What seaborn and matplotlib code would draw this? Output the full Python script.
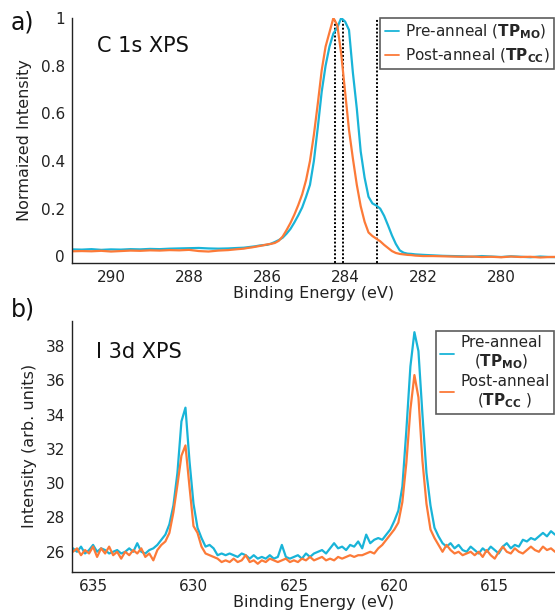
import numpy as np
import pandas as pd
import matplotlib
matplotlib.use("Agg")
import matplotlib.pyplot as plt
import seaborn as sns

# ---------------- C 1s spectra (normalized) ----------------
c1s_energy = np.concatenate([
    np.round(np.arange(291.0, 286.70, -0.25), 2),   # 291.0 ... 286.75
    np.round(np.arange(286.6, 281.95, -0.1), 2),    # 286.6 ... 282.0
    np.round(np.arange(281.75, 278.45, -0.25), 2),  # 281.75 ... 278.5
])

c1s_pre = [
    # 291.0 -> 286.75
    0.029, 0.028, 0.030, 0.027, 0.029, 0.028, 0.030, 0.029, 0.031,
    0.030, 0.032, 0.033, 0.034, 0.035, 0.033, 0.032, 0.033, 0.035,
    # 286.6 -> 282.0
    0.036, 0.038, 0.040, 0.042, 0.045, 0.047, 0.048, 0.053, 0.060, 0.068,
    0.078, 0.095, 0.115, 0.142, 0.172, 0.205, 0.250, 0.300, 0.400, 0.540,
    0.690, 0.800, 0.880, 0.935, 0.960, 1.000, 0.985, 0.950, 0.770, 0.620,
    0.440, 0.330, 0.250, 0.222, 0.213, 0.200, 0.170, 0.130, 0.088, 0.052,
    0.025, 0.015, 0.011, 0.010, 0.008, 0.007, 0.006,
    # 281.75 -> 278.5
    0.004, 0.002, 0.001, 0.000, -0.002, 0.001, -0.001, -0.003, 0.000,
    -0.002, -0.004, -0.001, -0.003, -0.004,
]

c1s_post = [
    # 291.0 -> 286.75
    0.021, 0.022, 0.021, 0.023, 0.020, 0.022, 0.024, 0.023, 0.025,
    0.024, 0.026, 0.025, 0.027, 0.022, 0.020, 0.024, 0.026, 0.030,
    # 286.6 -> 282.0
    0.032, 0.035, 0.037, 0.040, 0.043, 0.046, 0.050, 0.052, 0.056, 0.065,
    0.083, 0.110, 0.140, 0.175, 0.215, 0.260, 0.320, 0.400, 0.510, 0.640,
    0.780, 0.880, 0.940, 1.000, 0.970, 0.850, 0.690, 0.530, 0.410, 0.300,
    0.210, 0.145, 0.100, 0.085, 0.074, 0.063, 0.048, 0.035, 0.022, 0.014,
    0.010, 0.008, 0.006, 0.005, 0.003, 0.002, 0.001,
    # 281.75 -> 278.5
    0.001, 0.000, -0.001, -0.002, -0.001, -0.003, -0.002, -0.004, -0.001,
    -0.003, -0.002, -0.005, -0.003, -0.002,
]

# component positions marked on the C 1s panel (eV)
c1s_markers = [284.27, 284.06, 283.17]

# ---------------- I 3d spectra ----------------
i3d_energy = np.round(np.arange(636.0, 611.95, -0.2), 1)

i3d_pre = [
    26.2, 26.0, 26.3, 25.9, 26.1, 26.4, 26.0, 26.2, 26.1, 25.9,
    26.0, 26.1, 25.9, 26.0, 26.2, 26.0, 26.5, 26.0, 25.9, 26.1,
    26.2, 26.4, 26.7, 27.0, 27.6, 28.7, 30.6, 33.6, 34.4, 31.3,
    28.8, 27.4, 26.8, 26.3, 26.4, 26.2, 25.8, 25.9, 25.8, 25.9,
    25.8, 25.7, 25.9, 25.8, 25.6, 25.8, 25.6, 25.7, 25.6, 25.8,
    25.6, 25.7, 26.4, 25.7, 25.6, 25.7, 25.8, 25.6, 25.9, 25.7,
    25.9, 26.0, 26.1, 25.9, 26.2, 26.5, 26.2, 26.3, 26.1, 26.4,
    26.3, 26.6, 26.2, 27.0, 26.5, 26.7, 26.8, 26.7, 27.0, 27.3,
    27.8, 28.4, 29.8, 33.1, 36.8, 38.8, 37.7, 34.0, 30.6, 28.7,
    27.4, 26.9, 26.5, 26.3, 26.5, 26.2, 26.4, 26.1, 26.0, 26.3,
    26.1, 25.9, 26.2, 26.0, 26.3, 26.1, 25.9, 26.3, 26.5, 26.2,
    26.4, 26.3, 26.7, 26.6, 26.8, 26.7, 26.9, 27.1, 26.9, 27.2,
    27.0,
]

i3d_post = [
    26.0, 26.2, 25.8, 26.1, 25.9, 26.3, 25.7, 26.2, 25.9, 26.3,
    25.8, 26.0, 25.6, 26.0, 25.8, 26.1, 25.9, 26.2, 25.7, 25.9,
    25.5, 26.1, 26.4, 26.6, 27.1, 28.3, 29.9, 31.6, 32.2, 29.8,
    27.5, 27.1, 26.3, 25.9, 25.8, 25.7, 25.6, 25.4, 25.5, 25.4,
    25.6, 25.4, 25.5, 25.8, 25.4, 25.5, 25.3, 25.5, 25.4, 25.6,
    25.5, 25.4, 25.5, 25.6, 25.4, 25.5, 25.4, 25.6, 25.5, 25.7,
    25.5, 25.6, 25.7, 25.5, 25.6, 25.5, 25.7, 25.6, 25.7, 25.8,
    25.7, 25.8, 25.8, 25.9, 26.0, 25.9, 26.2, 26.4, 26.7, 27.0,
    27.3, 27.7, 28.9, 31.2, 34.3, 36.3, 35.0, 31.3, 28.8, 27.3,
    26.8, 26.4, 26.0, 26.4, 26.1, 25.9, 26.0, 25.8, 25.9, 26.0,
    25.8, 26.0, 25.7, 26.1, 25.8, 25.6, 26.0, 26.3, 26.0, 25.9,
    26.2, 26.0, 25.9, 26.1, 26.3, 26.1, 26.0, 26.3, 26.1, 26.2,
    26.0,
]

c1s_labels = [r"Pre-anneal ($\mathbf{TP}_{\mathbf{MO}}$)",
              r"Post-anneal ($\mathbf{TP}_{\mathbf{CC}}$)"]
i3d_labels = ["Pre-anneal\n" + r"($\mathbf{TP}_{\mathbf{MO}}$)",
              "Post-anneal\n" + r"($\mathbf{TP}_{\mathbf{CC}}$ )"]

c1s_yticks = [0, 0.2, 0.4, 0.6, 0.8, 1]
c1s_yticklabels = ["0", "0.2", "0.4", "0.6", "0.8", "1"]
c1s_xticks = [290, 288, 286, 284, 282, 280]
i3d_yticks = [26, 28, 30, 32, 34, 36, 38]
i3d_xticks = [635, 630, 625, 620, 615]

BLUE = "#19b4d8"
ORANGE = "#fc7a38"

sns.set_style("white")
plt.rcParams["font.family"] = ["DejaVu Sans"]
plt.rcParams["mathtext.fontset"] = "dejavusans"

c1s_df = pd.concat([
    pd.DataFrame({"E": c1s_energy, "I": c1s_pre, "s": "pre"}),
    pd.DataFrame({"E": c1s_energy, "I": c1s_post, "s": "post"}),
])
i3d_df = pd.concat([
    pd.DataFrame({"E": i3d_energy, "I": i3d_pre, "s": "pre"}),
    pd.DataFrame({"E": i3d_energy, "I": i3d_post, "s": "post"}),
])
palette = {"pre": BLUE, "post": ORANGE}

fig = plt.figure(figsize=(5.55, 6.16), dpi=100)
ax1 = fig.add_axes([0.1297, 0.5731, 0.8703, 0.3977])
ax2 = fig.add_axes([0.1297, 0.0714, 0.8703, 0.4080])


def style_axes(ax):
    for side in ("top", "right"):
        ax.spines[side].set_visible(False)
    for side in ("left", "bottom"):
        ax.spines[side].set_color("#222222")
        ax.spines[side].set_linewidth(1.0)
    ax.tick_params(direction="in", length=4, width=1.0, color="#222222",
                   labelsize=11, labelcolor="#222222", pad=5)
    ax.set_facecolor("white")


def add_legend(ax, labels, anchor, spacing):
    handles = [plt.Line2D([], [], color=BLUE, lw=1.3),
               plt.Line2D([], [], color=ORANGE, lw=1.3)]
    leg = ax.legend(handles, labels, loc="upper right", bbox_to_anchor=anchor,
                    fontsize=11, frameon=True, fancybox=False, handlelength=0.9,
                    handletextpad=0.4, borderpad=0.3, labelspacing=spacing,
                    borderaxespad=0.0)
    leg.get_frame().set_edgecolor("#333333")
    leg.get_frame().set_linewidth(1.2)
    return leg


# ---- panel a: C 1s ----
sns.lineplot(data=c1s_df, x="E", y="I", hue="s", palette=palette,
             linewidth=1.6, ax=ax1, legend=False, sort=False)
for e in c1s_markers:
    ax1.axvline(e, color="black", linestyle=(0, (1, 1)), linewidth=1.4, zorder=1)
ax1.set_xlim(291.0, 278.62)
ax1.set_ylim(-0.028, 1.0)
ax1.set_xticks(c1s_xticks)
ax1.set_yticks(c1s_yticks)
ax1.set_yticklabels(c1s_yticklabels)
ax1.set_xlabel("Binding Energy (eV)", fontsize=11.5, color="#222222", labelpad=1)
ax1.set_ylabel("Normaized Intensity", fontsize=11.5, color="#222222", labelpad=6)
style_axes(ax1)
ax1.text(0.052, 0.885, "C 1s XPS", transform=ax1.transAxes, fontsize=15,
         color="#111111", va="center", ha="left")
add_legend(ax1, c1s_labels, (0.998, 1.0), 0.35)

# ---- panel b: I 3d ----
sns.lineplot(data=i3d_df, x="E", y="I", hue="s", palette=palette,
             linewidth=1.6, ax=ax2, legend=False, sort=False)
ax2.set_xlim(636.05, 612.0)
ax2.set_ylim(24.82, 39.47)
ax2.set_xticks(i3d_xticks)
ax2.set_yticks(i3d_yticks)
ax2.set_xlabel("Binding Energy (eV)", fontsize=11.5, color="#222222", labelpad=1)
ax2.set_ylabel("Intensity (arb. units)", fontsize=11.5, color="#222222", labelpad=6)
style_axes(ax2)
ax2.text(0.05, 0.875, "I 3d XPS", transform=ax2.transAxes, fontsize=15,
         color="#111111", va="center", ha="left")
leg2 = add_legend(ax2, i3d_labels, (0.998, 0.96), 0.15)
for t in leg2.get_texts():
    t.set_multialignment("center")

fig.text(0.02, 0.963, "a)", fontsize=17, color="#111111", va="center", ha="left")
fig.text(0.02, 0.497, "b)", fontsize=17, color="#111111", va="center", ha="left")

fig.savefig("out.png", dpi=100, facecolor="white")
